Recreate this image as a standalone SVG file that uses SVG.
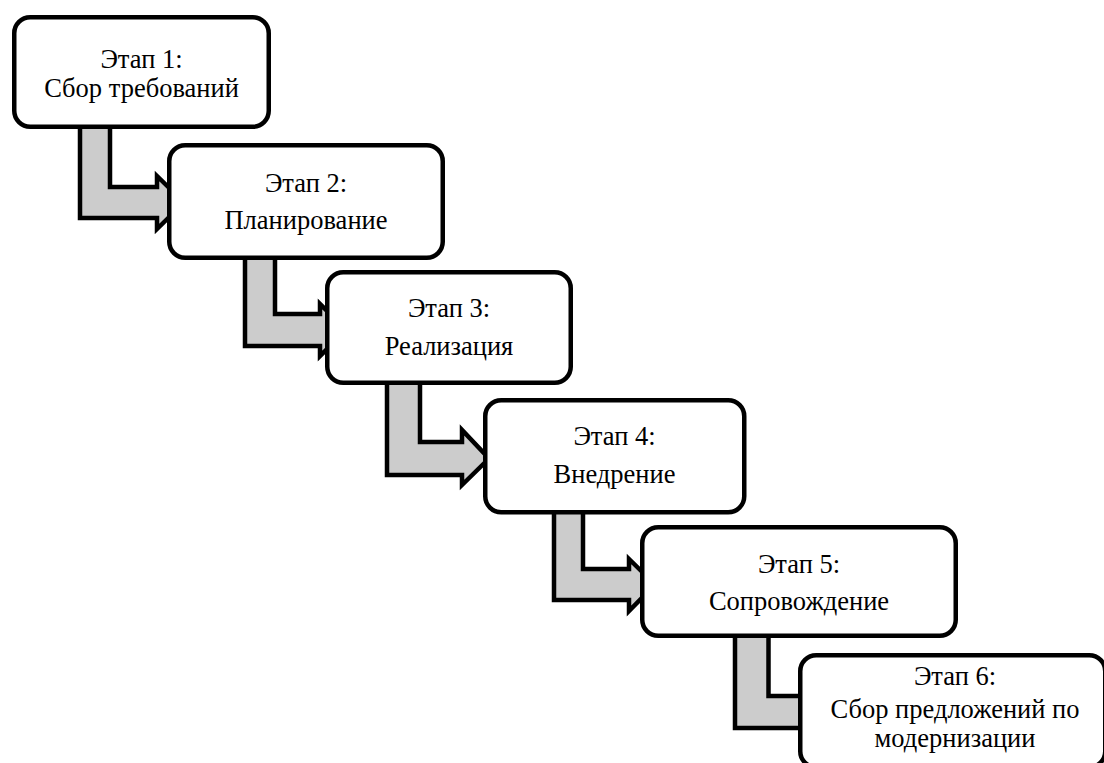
<svg xmlns="http://www.w3.org/2000/svg" width="1104" height="763" viewBox="0 0 1104 763">
<style>
.box{fill:#ffffff;stroke:#000000;stroke-width:4.5}
.arr{fill:#cccccc;stroke:#000000;stroke-width:4.5;stroke-linejoin:miter}
.t{font-family:'Liberation Serif','Times New Roman',serif;font-size:26.5px;fill:#000000;text-anchor:middle}
</style>
<rect width="1104" height="763" fill="#ffffff"/>
<g id="connectors">
<polygon class="arr" points="80,110 80,218 157,218 157,229 184,202.5 157,176 157,187 110,187 110,110"/>
<polygon class="arr" points="245,240 245,346 320,346 320,356 346,330 320,304 320,314 275,314 275,240"/>
<polygon class="arr" points="387,370 387,475 462,475 462,485 489,458.5 462,430 462,442 420,442 420,370"/>
<polygon class="arr" points="554,500 554,600 629,600 629,611 655,584.5 629,559 629,569 583,569 583,500"/>
<polygon class="arr" points="735,620 735,728 810,728 810,740 836,712 810,684 810,696 768.5,696 768.5,620"/>
</g>
<g id="node1">
<rect class="box" x="14.25" y="17.25" width="254.5" height="109.5" rx="16"/>
<text class="t" x="141.5" y="68">Этап 1:</text>
<text class="t" x="141.5" y="97">Сбор требований</text>
</g>
<g id="node2">
<rect class="box" x="169.25" y="145.25" width="273.5" height="112.5" rx="16"/>
<text class="t" x="306" y="192">Этап 2:</text>
<text class="t" x="306" y="229">Планирование</text>
</g>
<g id="node3">
<rect class="box" x="327.25" y="272.25" width="243.5" height="110.5" rx="16"/>
<text class="t" x="449" y="317">Этап 3:</text>
<text class="t" x="449" y="355">Реализация</text>
</g>
<g id="node4">
<rect class="box" x="485.25" y="400.25" width="259" height="112" rx="16"/>
<text class="t" x="614.5" y="445">Этап 4:</text>
<text class="t" x="614.5" y="483">Внедрение</text>
</g>
<g id="node5">
<rect class="box" x="642.25" y="527.25" width="313.5" height="108.5" rx="16"/>
<text class="t" x="799" y="573">Этап 5:</text>
<text class="t" x="799" y="610">Сопровождение</text>
</g>
<g id="node6">
<rect class="box" x="800.25" y="655.25" width="305" height="112" rx="16"/>
<text class="t" x="955" y="685">Этап 6:</text>
<text class="t" x="955" y="718">Сбор предложений по</text>
<text class="t" x="955" y="747">модернизации</text>
</g>
</svg>
